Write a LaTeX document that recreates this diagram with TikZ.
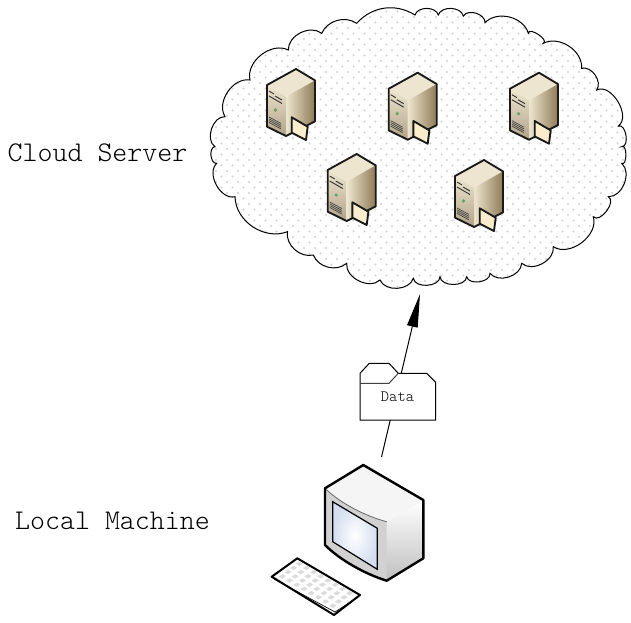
\documentclass[tikz,border=0pt]{standalone}
\usepackage{fontspec}
\setmonofont{Latin Modern Mono Light}
\usetikzlibrary{arrows.meta}
\definecolor{srvtop}{rgb}{0.93,0.90,0.81}
\definecolor{srvleft}{rgb}{0.90,0.87,0.78}
\definecolor{srvdark}{rgb}{0.56,0.48,0.34}
\definecolor{srvtag}{rgb}{0.98,0.93,0.80}
\definecolor{dotgray}{rgb}{0.82,0.82,0.82}
\definecolor{screenblue}{rgb}{0.83,0.87,0.94}
\newcommand{\cloudpath}{(415,15) to[bump=75] (438.3,15) to[bump=75] (463.3,16) to[bump=75] (485,22.7) to[bump=60] (528.3,33.3) to[bump=120] (543.3,43.3) to[bump=60] (581.7,68.3) to[bump=70] (596.7,90) to[bump=85] (618.3,126) to[bump=100] (621.7,146.7) to[bump=120] (621.7,163.3) to[bump=70] (608.3,196.7) to[bump=100] (593.3,216.7) to[bump=70] (553.3,246.7) to[bump=70] (521.7,263.3) to[bump=70] (490,273.3) to[bump=85] (466.7,276.7) to[bump=85] (440,276.7) to[bump=85] (413.3,278.3) to[bump=70] (380,280) to[bump=70] (346.7,263.3) to[bump=55] (313.3,255) to[bump=55] (287.3,231.7) to[bump=55] (235,196.7) to[bump=75] (216.7,163.3) to[bump=90] (215,146.7) to[bump=75] (225,116.7) to[bump=65] (250,80) to[bump=65] (288.3,50) to[bump=65] (321.7,33.3) to[bump=50] (356.7,23.3) to[bump=40] (415,15) -- cycle}
\tikzset{
  bump/.style={bend right=#1},
  bump/.default=60,
  srvedge/.style={draw=black!90,line width=1.4pt,line join=round},
  mainlabel/.style={font=\ttfamily\fontsize{21.4}{24}\selectfont,text=black,inner sep=0pt},
  server/.pic={
    %Shape: faces
    \fill[srvtop] (0,0) -- (19,11.4) -- (-10,27.7) -- (-29,16) -- cycle;
    \shade[left color=srvtop,right color=srvdark] (-10,27.7) -- (19,11.4) -- (19,52.4) -- (-10,67) -- cycle;
    \shade[top color=srvtop,bottom color=srvdark!70] (-29,16) -- (-10,27.7) -- (-10,67) -- (-29,57.7) -- cycle;
    %Shape: slots
    \draw[line width=0.7pt,black!80] (-27,22) -- (-22,25) (-21,27) -- (-14,31) (-27,27) -- (-14,34.5);
    \fill[black!60!green!60] (-20.5,41) circle (1.8);
    \foreach \k in {0,1.8,...,7.2} \draw[line width=0.5pt,black!75] (-27,48+\k) -- (-15,54.5+\k);
    %Shape: outline
    \draw[srvedge] (0,0) -- (19,11.4) -- (19,52.4) -- (-10,67) -- (-29,57.7) -- (-29,16) -- cycle;
    %Shape: tag
    \draw[srvedge,fill=srvtag] (-4.3,48.3) -- (11.7,57.7) -- (10,71) -- (-4.3,63.7) -- cycle;
  },
}
\begin{document}
\begin{tikzpicture}[x=0.75pt,y=0.75pt,yscale=-1,xscale=1]
\useasboundingbox (0,0) rectangle (631,622);

%Shape: Cloud
\fill[white] \cloudpath;
\begin{scope}
\clip \cloudpath;
\foreach \row in {0,...,54} {
  \pgfmathsetmacro{\shiftx}{mod(\row,2)*5.5}
  \foreach \col in {0,...,40}
    \fill[dotgray] (205+\col*11+\shiftx,6+\row*5.5) circle (1.2);
}
\end{scope}
\draw[line width=0.75pt] \cloudpath;

%Servers
\path (296,69) pic[transform shape] {server};
\path (417.7,72.7) pic[transform shape] {server};
\path (539,72.7) pic[transform shape] {server};
\path (356.7,154) pic[transform shape] {server};
\path (484,160) pic[transform shape] {server};

% Text Node
\node[mainlabel] (cloudlabel) at (97.5,153) {Cloud Server};
% Text Node
\node[mainlabel] (locallabel) at (112.5,521) {Local Machine};

%Straight Lines
\coordinate (pcout) at (381.5,457);
\coordinate (cloudin) at (420,294);
\draw[-{Triangle[length=25pt,width=8pt]},line width=0.75pt] (pcout) -- (cloudin);

%Shape: Folder
\draw[fill=white,line width=0.75pt] (360,420) -- (360,373.3) -- (369.3,363.3) -- (389,363.3) -- (398.3,373.3) -- (426.7,373.3) -- (435.7,382.3) -- (435.7,420) -- cycle;
\draw[line width=0.75pt,black!75] (360,383.3) -- (389,383.3) -- (398.3,373.3);
% Text Node
\node[font=\ttfamily\fontsize{11.8}{14}\selectfont,text=black,inner sep=0pt] (datalabel) at (397.5,397) {Data};

%Shape: Monitor
\shade[top color=white,bottom color=black!25] (386.7,521.7) -- (423.3,500) -- (423.3,558.3) -- (386.7,580.7) -- cycle;
\fill[black!4] (325,488.3) -- (363.3,465) -- (423.3,500) -- (386.7,521.7) .. controls (365,516) and (340,503) .. (325,488.3) -- cycle;
\fill[black!18] (325,488.3) .. controls (340,503) and (365,516) .. (386.7,521.7) -- (386.7,580.7) .. controls (365,574) and (340,560) .. (325,545) -- cycle;
\shade[inner color=white,outer color=screenblue] (332.7,501.7) -- (377.3,528.3) -- (377.3,569.3) -- (332.7,541.7) -- cycle;
\draw[line width=0.9pt] (332.7,501.7) -- (377.3,528.3) -- (377.3,569.3) -- (332.7,541.7) -- cycle;
\draw[line width=0.6pt,black!60,line join=round] (325,488.3) .. controls (340,503) and (365,516) .. (386.7,521.7);
\draw[line width=1.8pt,line join=round] (363.3,465) -- (423.3,500) -- (423.3,558.3) -- (386.7,580.7) .. controls (365,574) and (340,560) .. (325,545) -- (325,488.3) -- cycle;

%Shape: Keyboard
\draw[line width=1.5pt,line join=round,fill=white] (271.7,576.7) -- (297.3,558.3) -- (360,595) -- (334,615) -- cycle;
\draw[line width=0.5pt] (274,579) -- (335,612) -- (358,597);
\foreach \a in {0,...,7}
  \foreach \b in {0,...,3}
    \fill[black!14] ({279+\a*7.2+\b*5.6},{576.5+\a*4.2-\b*4.2}) -- ++(3.5,-2.4) -- ++(3.4,2) -- ++(-3.5,2.4) -- cycle;
\end{tikzpicture}
\end{document}
